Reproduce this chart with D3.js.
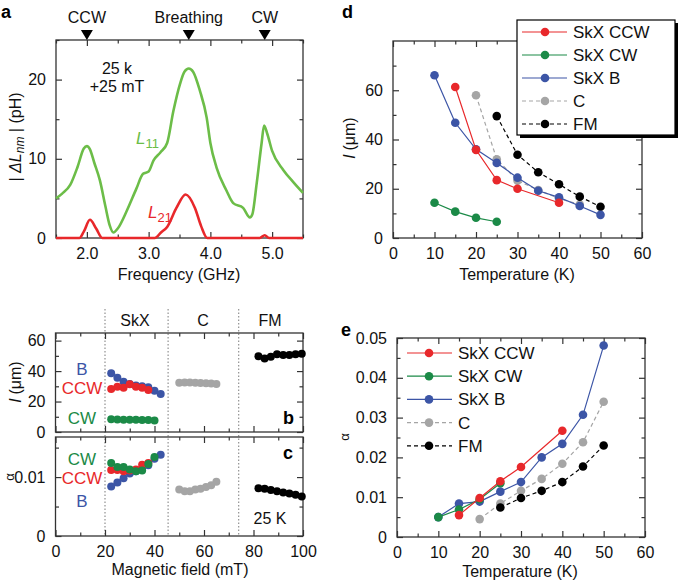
<!DOCTYPE html>
<html>
<head>
<meta charset="utf-8">
<script src="https://cdn.jsdelivr.net/npm/d3@7"></script>
<style>
  body { margin: 0; background: #fff; }
  svg { font-family: "Liberation Sans", Arial, sans-serif; }
  .tick text { font-size: 16px; fill: #111; }
  .lab { font-size: 16px; fill: #111; }
  .letter { font-size: 18px; font-weight: bold; fill: #000; }
</style>
</head>
<body>
<svg width="678" height="581"></svg>
<script>
// ---- panel a: spectra ----
const l11Freq = [1.5,1.6,1.73,1.85,1.95,2.0,2.05,2.12,2.21,2.3,2.37,2.43,2.5,2.65,2.8,2.91,3.0,3.08,3.19,3.3,3.4,3.51,3.58,3.65,3.72,3.83,3.94,4.0,4.1,4.26,4.37,4.53,4.64,4.68,4.75,4.83,4.87,4.92,5.0,5.18,5.35,5.5];
const l11Val  = [5.0,5.6,6.7,9.0,11.3,11.6,11.2,9.5,7.3,4.0,1.6,0.7,1.2,3.5,6.2,8.1,8.4,9.8,10.8,12.0,16.0,19.5,21.0,21.4,21.0,18.6,15.2,12.0,8.9,6.0,4.4,3.8,2.6,3.0,6.9,12.0,14.2,13.2,11.0,8.6,7.0,5.7];
const l21Freq = [1.5,1.88,1.95,2.05,2.15,2.25,3.1,3.2,3.3,3.45,3.6,3.75,3.85,3.95,4.8,4.88,4.95,5.5];
const l21Val  = [0,0,0.8,2.3,1.2,0,0,0.7,1.4,3.8,5.5,3.8,1.5,0,0,0.35,0,0];
const modeNames = ["CCW", "Breathing", "CW"];
const modeFreq = [2.0, 3.65, 4.88];

// ---- panel d: l vs temperature ----
const tCCW = [15,20,25,30,40];           const dCCW = [61.3,35.8,23.5,20,14.3];
const tCW = [10,15,20,25];               const dCW = [14.3,10.7,8.2,6.6];
const tB = [10,15,20,25,30,35,40,45,50]; const dB = [66.1,46.8,36,30.5,24.5,19.2,16.5,13,9.4];
const tCd = [20,25,30,35,40,45];         const dC = [58,32,23.3,19.5,16,13.6];
const tFM = [25,30,35,40,45,50];         const dFM = [49.5,33.8,26.7,21.8,16.8,12.7];

// ---- panel e: alpha vs temperature ----
const eCCW = [0.0055,0.0098,0.0140,0.0176,0.0267];
const eCW = [0.0050,0.0069,0.0095,0.0135];
const eB = [0.0050,0.0084,0.0089,0.0114,0.0138,0.0200,0.0234,0.0307,0.0481];
const tCe = [20,25,30,35,40,45,50];
const eC = [0.0045,0.0084,0.0116,0.0146,0.0184,0.0238,0.0340];
const eFM = [0.0074,0.0098,0.0116,0.0138,0.0177,0.0230];

// ---- panels b, c: vs magnetic field at 25 K ----
const fB = [22.5,25,27.5,30,32.5,35,37.5,40,42.5];
const bB = [38.5,35.6,33,31.5,30.5,30,29.3,27.1,24.9];
const cB = [0.0084,0.0091,0.0098,0.0106,0.0110,0.0114,0.0120,0.0131,0.0138];
const fCCW = [22.5,25,27.5,30,32.5,35,37.5];
const bCCW = [28.2,29.7,29.1,31.3,29.7,29,27.5];
const cCCW = [0.0112,0.0112,0.0110,0.0111,0.0113,0.0121,0.0124];
const fCW = [22.5,25,27.5,30,32.5,35,37.5,40];
const bCW = [8.3,8.2,8.1,8.0,8.0,7.9,7.8,7.6];
const cCW = [0.0124,0.0117,0.0117,0.0113,0.0110,0.0111,0.0122,0.0134];
const fC = [50,52.2,54.3,56.5,58.6,60.8,62.9,65];
const bC = [32.3,32.5,32.5,32.3,32.2,32,31.8,31.5];
const cC = [0.0079,0.0076,0.0076,0.0079,0.0080,0.0083,0.0086,0.0092];
const fFM = [82,84.5,87,89.5,92,94.5,97,99.5];
const bFM = [49.8,48.3,49.4,51,50.5,50.5,51,51.3];
const cFM = [0.0081,0.0080,0.0078,0.0076,0.0074,0.0072,0.0070,0.0067];
const phaseNames = ["SkX", "C", "FM"];
const phaseBounds = [20, 45.5, 74];

const legendNames = ["SkX CCW", "SkX CW", "SkX B", "C", "FM"];

const RED = "#e8282b", GREEN = "#1b8a47", BLUE = "#3c55a6", GRAY = "#a5a5a5", BLACK = "#000";
const LGREEN = "#6cbd48";

const svg = d3.select("svg");
const zip = (a, b) => a.map((v, i) => [v, b[i]]);
const alphaFmt = (d) => (d === 0 ? "0" : d3.format(".2f")(d));

// box with inward ticks on all four sides
const frame = (g, x, y, o) => {
  const [x0, x1] = x.range();
  const [y1, y0] = y.range();
  const add = (axis, tr, vals, size, fmt) => {
    const a = g.append("g").attr("transform", tr)
      .call(axis.tickValues(vals).tickSize(-size).tickPadding(size + 4).tickFormat(fmt));
    a.select(".domain").remove();
    a.selectAll(".tick line").attr("stroke", "#333").attr("stroke-width", 1.2);
    return a;
  };
  const none = () => "";
  add(d3.axisBottom(x), `translate(0,${y1})`, o.xMinor, 3.5, none);
  add(d3.axisBottom(x), `translate(0,${y1})`, o.xMajor, 6, o.xLabels ? (o.xFmt || null) : none);
  add(d3.axisTop(x), `translate(0,${y0})`, o.xMinor, 3.5, none);
  add(d3.axisTop(x), `translate(0,${y0})`, o.xMajor, 6, none);
  add(d3.axisLeft(y), `translate(${x0},0)`, o.yMinor, 3.5, none);
  add(d3.axisLeft(y), `translate(${x0},0)`, o.yMajor, 6, o.yFmt || null);
  add(d3.axisRight(y), `translate(${x1},0)`, o.yMinor, 3.5, none);
  add(d3.axisRight(y), `translate(${x1},0)`, o.yMajor, 6, none);
  g.append("rect").attr("x", x0).attr("y", y0).attr("width", x1 - x0).attr("height", y1 - y0)
    .attr("fill", "none").attr("stroke", "#333").attr("stroke-width", 1.3);
};

const series = (g, x, y, xs, ys, color, dash, r, withLine) => {
  const pts = zip(xs, ys);
  if (withLine) {
    g.append("path").datum(pts).attr("fill", "none").attr("stroke", color)
      .attr("stroke-width", 1.2).attr("stroke-dasharray", dash)
      .attr("d", d3.line().x((d) => x(d[0])).y((d) => y(d[1])));
  }
  g.selectAll(null).data(pts).enter().append("circle")
    .attr("cx", (d) => x(d[0])).attr("cy", (d) => y(d[1])).attr("r", r).attr("fill", color);
};

const rotLabel = (x, y, cls) => svg.append("text").attr("class", cls || "lab")
  .attr("transform", `translate(${x},${y}) rotate(-90)`).attr("text-anchor", "middle");

// ================= panel a =================
{
  const g = svg.append("g");
  const x = d3.scaleLinear().domain([1.5, 5.5]).range([56, 303]);
  const y = d3.scaleLinear().domain([0, 25]).range([238, 40]);
  frame(g, x, y, {
    xMajor: [2, 3, 4, 5], xMinor: [1.5, 2.5, 3.5, 4.5, 5.5], xLabels: true,
    yMajor: [0, 10, 20], yMinor: [5, 15, 25],
  });
  const line = d3.line().x((d) => x(d[0])).y((d) => y(d[1])).curve(d3.curveMonotoneX);
  g.append("path").datum(zip(l11Freq, l11Val)).attr("fill", "none").attr("stroke", LGREEN)
    .attr("stroke-width", 2.6).attr("stroke-linejoin", "round").attr("d", line);
  g.append("path").datum(zip(l21Freq, l21Val)).attr("fill", "none").attr("stroke", RED)
    .attr("stroke-width", 2.6).attr("stroke-linejoin", "round").attr("d", line);

  modeFreq.forEach((f, i) => {
    const cx = x(f);
    g.append("path").attr("d", `M${cx - 6},${y(25) - 10}L${cx + 6},${y(25) - 10}L${cx},${y(25)}Z`).attr("fill", "#000");
    g.append("text").attr("class", "lab").attr("x", cx).attr("y", 23).attr("text-anchor", "middle").text(modeNames[i]);
  });

  g.append("text").attr("class", "lab").attr("x", 117).attr("y", 74).attr("text-anchor", "middle").text("25 k");
  g.append("text").attr("class", "lab").attr("x", 117).attr("y", 92).attr("text-anchor", "middle").text("+25 mT");

  const l11 = g.append("text").attr("class", "lab").attr("x", 136).attr("y", 144).style("fill", LGREEN);
  l11.append("tspan").attr("font-style", "italic").attr("font-size", 17).text("L");
  l11.append("tspan").attr("font-size", 13).attr("dy", 4).text("11");
  const l21 = g.append("text").attr("class", "lab").attr("x", 148).attr("y", 218).style("fill", RED);
  l21.append("tspan").attr("font-style", "italic").attr("font-size", 17).text("L");
  l21.append("tspan").attr("font-size", 13).attr("dy", 4).text("21");

  g.append("text").attr("class", "lab").attr("x", 179).attr("y", 280).attr("text-anchor", "middle").text("Frequency (GHz)");

  const yl = rotLabel(21, 137);
  yl.append("tspan").text("| ");
  yl.append("tspan").attr("font-style", "italic").text("ΔL");
  yl.append("tspan").attr("font-style", "italic").attr("font-size", 12).attr("dy", 3).text("nm");
  yl.append("tspan").attr("dy", -3).text(" |  (pH)");

  svg.append("text").attr("class", "letter").attr("x", 1).attr("y", 18).text("a");
}

// ================= panel d =================
{
  const g = svg.append("g");
  const x = d3.scaleLinear().domain([0, 60]).range([393, 642]);
  const y = d3.scaleLinear().domain([0, 80]).range([238, 41]);
  frame(g, x, y, {
    xMajor: d3.range(0, 61, 10), xMinor: d3.range(5, 60, 10), xLabels: true,
    yMajor: [0, 20, 40, 60], yMinor: [10, 30, 50, 70],
  });
  series(g, x, y, tCd, dC, GRAY, "4,3", 4.3, true);
  series(g, x, y, tFM, dFM, BLACK, "4,3", 4.3, true);
  series(g, x, y, tCW, dCW, GREEN, null, 4.3, true);
  series(g, x, y, tB, dB, BLUE, null, 4.3, true);
  series(g, x, y, tCCW, dCCW, RED, null, 4.3, true);

  g.append("text").attr("class", "lab").attr("x", 517).attr("y", 280).attr("text-anchor", "middle").text("Temperature (K)");
  const yl = rotLabel(355, 138);
  yl.append("tspan").attr("font-style", "italic").text("l");
  yl.append("tspan").text(" (μm)");

  // legend box with shadow
  const lg = svg.append("g");
  lg.append("rect").attr("x", 520).attr("y", 23).attr("width", 158).attr("height", 115).attr("fill", "#000");
  lg.append("rect").attr("x", 517).attr("y", 20).attr("width", 158).attr("height", 115)
    .attr("fill", "#fff").attr("stroke", "#000").attr("stroke-width", 1.2);
  const cols = [RED, GREEN, BLUE, GRAY, BLACK];
  const dashes = [null, null, null, "4,3", "4,3"];
  legendNames.forEach((n, i) => {
    const yy = 32 + i * 23;
    lg.append("line").attr("x1", 522).attr("x2", 567).attr("y1", yy).attr("y2", yy)
      .attr("stroke", cols[i]).attr("stroke-width", 1.2).attr("stroke-dasharray", dashes[i]);
    lg.append("circle").attr("cx", 545).attr("cy", yy).attr("r", 4.3).attr("fill", cols[i]);
    lg.append("text").attr("class", "lab").attr("x", 573).attr("y", yy + 6).style("font-size", "17px").text(n);
  });

  svg.append("text").attr("class", "letter").attr("x", 342).attr("y", 18).text("d");
}

// ================= panels b and c =================
{
  const g = svg.append("g");
  const x = d3.scaleLinear().domain([0, 100]).range([55.5, 303]);
  const yb = d3.scaleLinear().domain([0, 65]).range([432, 333]);
  const yc = d3.scaleLinear().domain([0, 0.0168]).range([536, 437]);
  const xMaj = d3.range(0, 101, 20), xMin = d3.range(10, 100, 20);

  phaseBounds.forEach((b) => {
    g.append("line").attr("x1", x(b)).attr("x2", x(b)).attr("y1", 309).attr("y2", 536)
      .attr("stroke", "#999").attr("stroke-width", 1.3).attr("stroke-dasharray", "1.5,2");
  });
  const phaseX = [135, 203, 270];
  phaseNames.forEach((n, i) => {
    g.append("text").attr("class", "lab").attr("x", phaseX[i]).attr("y", 326).attr("text-anchor", "middle").text(n);
  });

  frame(g, x, yb, { xMajor: xMaj, xMinor: xMin, xLabels: false, yMajor: [0, 20, 40, 60], yMinor: [10, 30, 50] });
  frame(g, x, yc, { xMajor: xMaj, xMinor: xMin, xLabels: true, yMajor: [0, 0.01], yMinor: [0.005, 0.015], yFmt: alphaFmt });

  const R = 4;
  series(g, x, yb, fC, bC, GRAY, null, R, false);
  series(g, x, yb, fFM, bFM, BLACK, null, R, false);
  series(g, x, yb, fB, bB, BLUE, null, R, false);
  series(g, x, yb, fCCW, bCCW, RED, null, R, false);
  series(g, x, yb, fCW, bCW, GREEN, null, R, false);

  series(g, x, yc, fC, cC, GRAY, null, R, false);
  series(g, x, yc, fFM, cFM, BLACK, null, R, false);
  series(g, x, yc, fB, cB, BLUE, null, R, false);
  series(g, x, yc, fCCW, cCCW, RED, null, R, false);
  series(g, x, yc, fCW, cCW, GREEN, null, R, false);

  const tag = (t, yy, c) => g.append("text").attr("class", "lab").attr("x", 82).attr("y", yy)
    .attr("text-anchor", "middle").style("font-size", "17px").style("fill", c).text(t);
  tag("B", 375, BLUE); tag("CCW", 394, RED); tag("CW", 424, GREEN);
  tag("CW", 465, GREEN); tag("CCW", 484, RED); tag("B", 507, BLUE);

  g.append("text").attr("class", "letter").attr("x", 283).attr("y", 424).text("b");
  g.append("text").attr("class", "letter").attr("x", 283).attr("y", 459).text("c");
  g.append("text").attr("class", "lab").attr("x", 270).attr("y", 524).attr("text-anchor", "middle").text("25 K");

  g.append("text").attr("class", "lab").attr("x", 180).attr("y", 575).attr("text-anchor", "middle").text("Magnetic field (mT)");
  const yl = rotLabel(21, 382);
  yl.append("tspan").attr("font-style", "italic").text("l");
  yl.append("tspan").text(" (μm)");
  rotLabel(14, 477).style("font-size", "13px").text("α");
}

// ================= panel e =================
{
  const g = svg.append("g");
  const x = d3.scaleLinear().domain([0, 60]).range([397, 645]);
  const y = d3.scaleLinear().domain([0, 0.05]).range([537, 338]);
  frame(g, x, y, {
    xMajor: d3.range(0, 61, 10), xMinor: d3.range(5, 60, 10), xLabels: true,
    yMajor: [0, 0.01, 0.02, 0.03, 0.04, 0.05], yMinor: [0.005, 0.015, 0.025, 0.035, 0.045], yFmt: alphaFmt,
  });
  series(g, x, y, tCe, eC, GRAY, "4,3", 4.3, true);
  series(g, x, y, tFM, eFM, BLACK, "4,3", 4.3, true);
  series(g, x, y, tB, eB, BLUE, null, 4.3, true);
  series(g, x, y, tCW, eCW, GREEN, null, 4.3, true);
  series(g, x, y, tCCW, eCCW, RED, null, 4.3, true);

  const cols = [RED, GREEN, BLUE, GRAY, BLACK];
  const dashes = [null, null, null, "4,3", "4,3"];
  legendNames.forEach((n, i) => {
    const yy = 353 + i * 23.2;
    g.append("line").attr("x1", 407).attr("x2", 452).attr("y1", yy).attr("y2", yy)
      .attr("stroke", cols[i]).attr("stroke-width", 1.2).attr("stroke-dasharray", dashes[i]);
    g.append("circle").attr("cx", 429).attr("cy", yy).attr("r", 4.3).attr("fill", cols[i]);
    g.append("text").attr("class", "lab").attr("x", 458).attr("y", yy + 6).style("font-size", "17px").text(n);
  });

  g.append("text").attr("class", "lab").attr("x", 520).attr("y", 577).attr("text-anchor", "middle").text("Temperature (K)");
  rotLabel(349, 437).style("font-size", "13px").text("α");
  svg.append("text").attr("class", "letter").attr("x", 341).attr("y", 336).text("e");
}
</script>
</body>
</html>
